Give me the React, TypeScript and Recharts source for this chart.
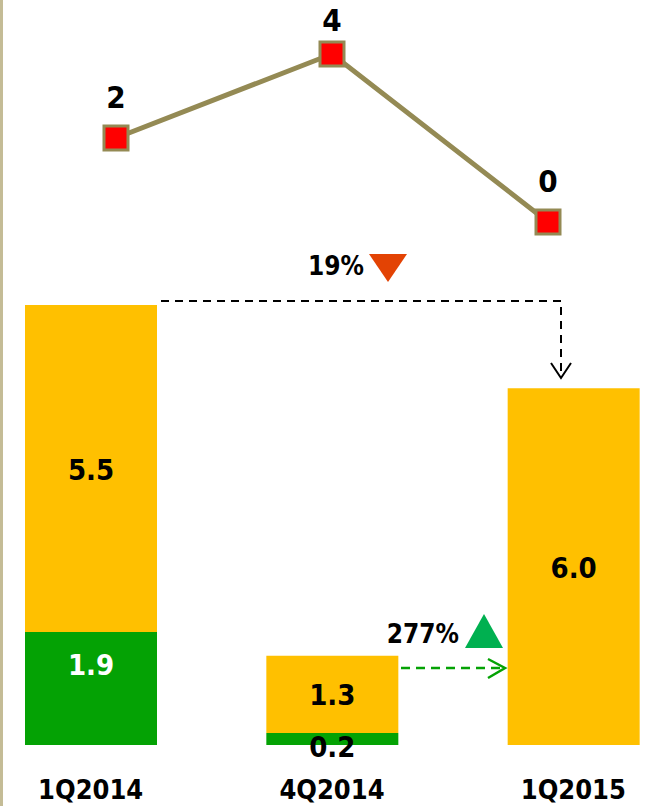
// Quarterly stacked bars with a small count line above them.
// Two Recharts charts stacked in one fixed-size frame, plus a thin SVG layer
// for the change callouts (dashed arrows + % triangles).
import React from "react";
import { Bar, BarChart, LabelList, Line, LineChart, XAxis, YAxis } from "recharts";

const quarters = ["1Q2014", "4Q2014", "1Q2015"];
const greenPart = [1.9, 0.2, 0];
const yellowPart = [5.5, 1.3, 6.0];
const countLine = [2, 4, 0];

const GREEN = "#04A204";
const YELLOW = "#FFC000";
const OLIVE = "#948A54";
const FONT = "'DejaVu Sans Condensed', 'DejaVu Sans', sans-serif";

const barRows = quarters.map((q, i) => ({ q, g: greenPart[i], y: yellowPart[i] }));
const lineRows = quarters.map((q, i) => ({ q, v: countLine[i] }));

function SquareDot(props: any) {
  const { cx, cy } = props;
  if (cx == null || cy == null) return null;
  return (
    <rect x={cx - 12} y={cy - 12} width={24} height={24}
      fill="#FF0000" stroke={OLIVE} strokeWidth={3} />
  );
}

function LineLabel(props: any) {
  const { x, y, value } = props;
  // the top label gets pushed down so it stays inside the frame
  const base = Math.max(y - 30, 31);
  return (
    <text x={x} y={base} textAnchor="middle" fontFamily={FONT}
      fontWeight="bold" fontSize={31} fill="#000">
      {value}
    </text>
  );
}

function GreenLabel(props: any) {
  const { x, y, width, height, value } = props;
  if (!value) return null;
  const cx = x + width / 2;
  // tall segment: label sits near the top, in white; thin one overflows below
  const tall = height > 60;
  return (
    <text x={cx} y={tall ? y + 43 : y + height / 2 + 18} textAnchor="middle"
      fontFamily={FONT} fontWeight="bold" fontSize={29}
      fill={tall ? "#fff" : "#000"}>
      {value.toFixed(1)}
    </text>
  );
}

function YellowLabel(props: any) {
  const { x, y, width, height, value } = props;
  return (
    <text x={x + width / 2} y={y + height / 2 + 11} textAnchor="middle"
      fontFamily={FONT} fontWeight="bold" fontSize={29} fill="#000">
      {value.toFixed(1)}
    </text>
  );
}

function Callouts() {
  return (
    <svg width={660} height={806}
      style={{ position: "absolute", left: 0, top: 0, pointerEvents: "none" }}>
      {/* drop from 1Q2014 to 1Q2015 */}
      <path d="M161,301 H561 V377" fill="none" stroke="#000" strokeWidth={2}
        strokeDasharray="8 6" />
      <polyline points="551,363 561,378 571,363" fill="none" stroke="#000" strokeWidth={2} />
      <text x={364} y={275} textAnchor="end" fontFamily={FONT} fontWeight="bold"
        fontSize={26} fill="#000">19%</text>
      <polygon points="369,254 407,254 388,282" fill="#E34304" />

      {/* rise from 4Q2014 to 1Q2015 */}
      <line x1={401} y1={668} x2={504} y2={668} stroke={GREEN} strokeWidth={2.5}
        strokeDasharray="9 6" />
      <polyline points="488,659 505,668 488,678" fill="none" stroke={GREEN} strokeWidth={2.5} />
      <text x={459} y={643} textAnchor="end" fontFamily={FONT} fontWeight="bold"
        fontSize={26} fill="#000">277%</text>
      <polygon points="465,648 503,648 484,614" fill="#00B050" />
    </svg>
  );
}

export default function App() {
  return (
    <div style={{ position: "absolute", left: 0, top: 0, width: 660, height: 806,
      overflow: "hidden", background: "#fff" }}>
      <div style={{ position: "absolute", left: 0, top: 0, width: 3, height: 806,
        background: "#C4BC96" }} />

      <div style={{ position: "absolute", left: -30, top: 0 }}>
        <BarChart width={724} height={806} data={barRows}
          margin={{ top: 305, right: 0, bottom: 0, left: 0 }}>
          <XAxis dataKey="q" axisLine={false} tickLine={false} tickSize={0}
            tickMargin={35} height={61} interval={0}
            tick={{ fill: "#000", fontSize: 27, fontWeight: "bold", fontFamily: FONT }} />
          <YAxis hide domain={[0, 7.4]} />
          <Bar dataKey="g" stackId="s" fill={GREEN} barSize={132} isAnimationActive={false}>
            <LabelList dataKey="g" content={GreenLabel} />
          </Bar>
          <Bar dataKey="y" stackId="s" fill={YELLOW} barSize={132} isAnimationActive={false}>
            <LabelList dataKey="y" content={YellowLabel} />
          </Bar>
        </BarChart>
      </div>

      <div style={{ position: "absolute", left: 0, top: 0 }}>
        <LineChart width={660} height={250} data={lineRows}
          margin={{ top: 54, right: 112, bottom: 28, left: 116 }}>
          <XAxis dataKey="q" hide />
          <YAxis hide domain={[0, 4]} />
          <Line dataKey="v" stroke={OLIVE} strokeWidth={5} dot={<SquareDot />}
            isAnimationActive={false}>
            <LabelList dataKey="v" content={LineLabel} />
          </Line>
        </LineChart>
      </div>

      <Callouts />
    </div>
  );
}
